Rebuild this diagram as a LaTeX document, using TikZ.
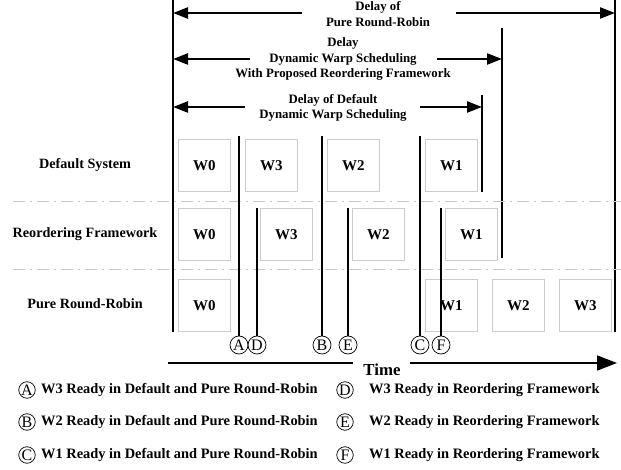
\documentclass[tikz,border=0pt]{standalone}
\usepackage{fontspec}
\setmainfont{Liberation Serif}
\usetikzlibrary{arrows.meta}
\begin{document}
\begin{tikzpicture}[x=1pt,y=-1pt,
  rowlbl/.style={font=\fontsize{14.2}{16}\selectfont\bfseries, inner sep=0},
  delaylbl/.style={font=\fontsize{12.8}{15.5}\selectfont\bfseries, align=center, inner sep=0},
  slot/.style={draw=black!20, line width=0.8pt, font=\fontsize{15}{17}\selectfont\bfseries,
    minimum width=52pt, minimum height=52pt, inner sep=0, anchor=north west},
  evt/.style={circle, draw, line width=0.7pt, minimum size=18pt, inner sep=0,
    font=\fontsize{16}{16}\selectfont},
  legcirc/.style={evt, minimum size=16.5pt},
  legtxt/.style={font=\fontsize{14.4}{16}\selectfont\bfseries, inner sep=0, anchor=west},
  bound/.style={line width=1.8pt},
  evline/.style={line width=1.3pt},
  span/.style={line width=2.3pt},
  tip/.style={-{Triangle[length=15pt,width=11pt]}},
  sep/.style={draw=black!22, line width=0.9pt, dash pattern=on 12pt off 5pt on 2pt off 5pt},
]
\useasboundingbox (0,0) rectangle (621,470);

% time boundaries
\coordinate (t0a) at (173,0);   \coordinate (t0b) at (173,332);
\coordinate (rra) at (615,0);   \coordinate (rrb) at (615,332);
\coordinate (rfa) at (502,28);  \coordinate (rfb) at (502,258);
\coordinate (dfa) at (482,95);  \coordinate (dfb) at (482,192);
\draw[bound] (t0a) -- (t0b);
\draw[bound] (rra) -- (rrb);
\draw[bound] (rfa) -- (rfb);
\draw[bound] (dfa) -- (dfb);

% delay spans
\node[delaylbl] (d1) at (378,14) {Delay of\\Pure Round-Robin};
\coordinate (d1L) at (173,13); \coordinate (d1R) at (615,13);
\coordinate (d1l) at (302,13); \coordinate (d1r) at (456,13);
\draw[span,tip] (d1l) -- (d1L);
\draw[span,tip] (d1r) -- (d1R);

\node[delaylbl] (d2) at (343,59) {Delay\\Dynamic Warp Scheduling\\With Proposed Reordering Framework};
\coordinate (d2L) at (173,59); \coordinate (d2R) at (502,59);
\coordinate (d2l) at (250,59); \coordinate (d2r) at (437,59);
\draw[span,tip] (d2l) -- (d2L);
\draw[span,tip] (d2r) -- (d2R);

\node[delaylbl] (d3) at (333,108) {Delay of Default\\Dynamic Warp Scheduling};
\coordinate (d3L) at (173,107); \coordinate (d3R) at (482,107);
\coordinate (d3l) at (245,107); \coordinate (d3r) at (420,107);
\draw[span,tip] (d3l) -- (d3L);
\draw[span,tip] (d3r) -- (d3R);

% row separators
\draw[sep] (13,201) -- (621,201);
\draw[sep] (13,269) -- (621,269);

% row labels
\node[rowlbl] (rowdef) at (85,165) {Default System};
\node[rowlbl] (rowreo) at (85,234) {Reordering Framework};
\node[rowlbl] (rowrr)  at (85,304) {Pure Round-Robin};

% default system
\node[slot] (dW0) at (178,139) {W0};
\node[slot] (dW3) at (245,139) {W3};
\node[slot] (dW2) at (327,139) {W2};
\node[slot] (dW1) at (425,139) {W1};
% reordering framework
\node[slot] (fW0) at (178,208) {W0};
\node[slot] (fW3) at (260,208) {W3};
\node[slot] (fW2) at (352,208) {W2};
\node[slot] (fW1) at (445,208) {W1};
% pure round-robin
\node[slot] (pW0) at (178,279) {W0};
\node[slot] (pW1) at (425,279) {W1};
\node[slot] (pW2) at (492,279) {W2};
\node[slot] (pW3) at (559,279) {W3};

% ready events
\node[evt] (eA) at (239,345) {A};
\node[evt] (eD) at (257,345) {D};
\node[evt] (eB) at (322,345) {B};
\node[evt] (eE) at (348,345) {E};
\node[evt] (eC) at (420,345) {C};
\node[evt] (eF) at (441,345) {F};
\coordinate (tA) at (239,136);
\coordinate (tD) at (257,208);
\coordinate (tB) at (322,136);
\coordinate (tE) at (348,208);
\coordinate (tC) at (420,136);
\coordinate (tF) at (441,208);
\draw[evline] (tA) -- (eA.north);
\draw[evline] (tD) -- (eD.north);
\draw[evline] (tB) -- (eB.north);
\draw[evline] (tE) -- (eE.north);
\draw[evline] (tC) -- (eC.north);
\draw[evline] (tF) -- (eF.north);

% time axis
\node[font=\fontsize{16.8}{19}\selectfont\bfseries, inner sep=0] (time) at (382,370) {Time};
\coordinate (ax0) at (168,363); \coordinate (ax1) at (353,363);
\coordinate (ax2) at (410,363); \coordinate (ax3) at (617,363);
\draw[line width=1.6pt] (ax0) -- (ax1);
\draw[line width=1.6pt, -{Triangle[length=20pt,width=15pt]}] (ax2) -- (ax3);

% legend
\node[legcirc] (lA) at (27,390) {A};
\node[legcirc] (lB) at (27,422) {B};
\node[legcirc] (lC) at (27,455) {C};
\node[legtxt] (tlA) at (41,390) {W3 Ready in Default and Pure Round-Robin};
\node[legtxt] (tlB) at (41,422) {W2 Ready in Default and Pure Round-Robin};
\node[legtxt] (tlC) at (41,455) {W1 Ready in Default and Pure Round-Robin};
\node[legcirc] (lD) at (345,390) {D};
\node[legcirc] (lE) at (345,422) {E};
\node[legcirc] (lF) at (345,455) {F};
\node[legtxt] (tlD) at (369,390) {W3 Ready in Reordering Framework};
\node[legtxt] (tlE) at (369,422) {W2 Ready in Reordering Framework};
\node[legtxt] (tlF) at (369,455) {W1 Ready in Reordering Framework};
\end{tikzpicture}
\end{document}
